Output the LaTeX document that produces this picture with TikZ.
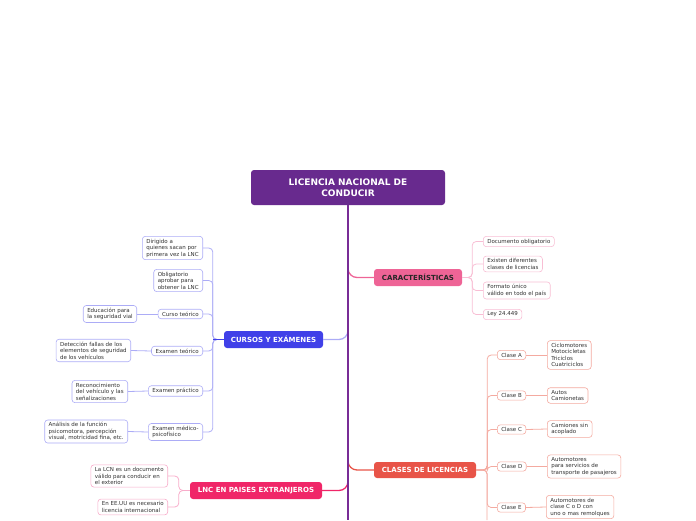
\documentclass[tikz,border=0pt]{standalone}
\usepackage{fontspec}
\setmainfont{DejaVu Sans}
\usetikzlibrary{positioning}
\definecolor{LNCPurple}{RGB}{104,42,142}
\definecolor{TrunkPurple}{RGB}{120,44,150}
\definecolor{CarPink}{RGB}{238,100,150}
\definecolor{CarLine}{RGB}{248,190,212}
\definecolor{ClaRed}{RGB}{232,84,72}
\definecolor{ClaLine}{RGB}{244,170,160}
\definecolor{CurBlue}{RGB}{64,64,232}
\definecolor{CurLine}{RGB}{172,172,246}
\definecolor{ExtPink}{RGB}{240,38,104}
\definecolor{ExtLine}{RGB}{248,172,202}
\definecolor{LeafText}{RGB}{50,50,50}

\begin{document}
\begin{tikzpicture}[x=1pt, y=-1pt,
    topic/.style={rounded corners=3pt, text=white, inner sep=1pt, align=center,
        font=\fontsize{7}{8.5}\selectfont\bfseries},
    leaf/.style={draw, rounded corners=3pt, fill=white, text=LeafText, align=left,
        inner xsep=4pt, inner ysep=2.5pt, line width=0.6pt, font=\fontsize{5.5}{6.5}\selectfont},
    branch/.style={line width=1.3pt, rounded corners=9pt},
    twig/.style={line width=0.8pt, rounded corners=4pt}]
    \useasboundingbox (0,0) rectangle (696,520);

    % --- nodo central ---
    \node[topic, fill=LNCPurple, minimum width=194pt, minimum height=35pt,
        font=\fontsize{9}{11}\selectfont\bfseries] (root) at (348,187.5) {LICENCIA NACIONAL DE\\CONDUCIR};
    \coordinate (trunkend) at (348,520);

    % --- ramas principales ---
    \node[topic, fill=CarPink, minimum width=88pt, minimum height=17pt, text=black!85] (car) at (418,277.5) {CARACTERÍSTICAS};
    \node[topic, fill=ClaRed, minimum width=102pt, minimum height=16pt] (cla) at (425,470) {CLASES DE LICENCIAS};
    \node[topic, fill=CurBlue, minimum width=99pt, minimum height=17pt] (cur) at (273.5,339.5) {CURSOS Y EXÁMENES};
    \node[topic, fill=ExtPink, minimum width=132pt, minimum height=17pt] (ext) at (256,490.5) {LNC EN PAISES EXTRANJEROS};

    \coordinate (tcar) at (348,262);
    \coordinate (tcur) at (348,322);
    \coordinate (tcla) at (348,454);
    \coordinate (text) at (348,474);
    \draw[branch, CarPink] (tcar) |- (car.west);
    \draw[branch, CurLine] (tcur) |- (cur.east);
    \draw[branch, ClaRed] (tcla) |- (cla.west);
    \draw[branch, ExtPink] (text) |- (ext.east);
    \draw[line width=2.6pt, TrunkPurple] (root.south) -- (trunkend);

    % --- CARACTERÍSTICAS ---
    \node[leaf, draw=CarLine, anchor=west] (c1) at (483,241.5) {Documento obligatorio};
    \node[leaf, draw=CarLine, anchor=west] (c2) at (483,264) {Existen diferentes\\clases de licencias};
    \node[leaf, draw=CarLine, anchor=west] (c3) at (483,290.5) {Formato único\\válido en todo el país};
    \node[leaf, draw=CarLine, anchor=west] (c4) at (483,314.5) {Ley 24.449};
    \foreach \c in {c1,c2,c3,c4}
        \draw[twig, CarLine] (car.east) -- ++(10,0) |- (\c.west);

    % --- CLASES DE LICENCIAS ---
    \node[leaf, draw=ClaLine, anchor=west] (ka) at (497,355) {Clase A};
    \node[leaf, draw=ClaLine, anchor=west] (kb) at (497,395.5) {Clase B};
    \node[leaf, draw=ClaLine, anchor=west] (kc) at (497,429.5) {Clase C};
    \node[leaf, draw=ClaLine, anchor=west] (kd) at (497,466.5) {Clase D};
    \node[leaf, draw=ClaLine, anchor=west] (ke) at (497,507.5) {Clase E};
    \node[leaf, draw=ClaLine, anchor=west] (la) at (547,355) {Ciclomotores\\Motocicletas\\Triciclos\\Cuatriciclos};
    \node[leaf, draw=ClaLine, anchor=west] (lb) at (547,395.5) {Autos\\Camionetas};
    \node[leaf, draw=ClaLine, anchor=west] (lc) at (547,429) {Camiones sin\\acoplado};
    \node[leaf, draw=ClaLine, anchor=west] (ld) at (547,466.5) {Automotores\\para servicios de\\transporte de pasajeros};
    \node[leaf, draw=ClaLine, anchor=west] (le) at (546,507) {Automotores de\\clase C o D con\\uno o mas remolques};
    \coordinate (clabot) at (487,520);
    \draw[twig, ClaLine] (cla.east) -- (487,470) -- (clabot);
    \foreach \k/\l in {ka/la,kb/lb,kc/lc,kd/ld,ke/le} {
        \draw[twig, ClaLine] (cla.east) -- ++(11,0) |- (\k.west);
        \draw[twig, ClaLine] (\k.east) -- (\l.west);
    }

    % --- CURSOS Y EXÁMENES ---
    \node[leaf, draw=CurLine, anchor=east] (e1) at (203,248) {Dirigido a\\quienes sacan por\\primera vez la LNC};
    \node[leaf, draw=CurLine, anchor=east] (e2) at (203,280.5) {Obligatorio\\aprobar para\\obtener la LNC};
    \node[leaf, draw=CurLine, anchor=east] (e3) at (203,314) {Curso teórico};
    \node[leaf, draw=CurLine, anchor=east] (e4) at (203,351) {Examen teórico};
    \node[leaf, draw=CurLine, anchor=east] (e5) at (203,391) {Examen práctico};
    \node[leaf, draw=CurLine, anchor=east] (e6) at (203,432) {Examen médico-\\psicofísico};
    \node[leaf, draw=CurLine, anchor=east] (f3) at (137,314) {Educación para\\la seguridad vial};
    \node[leaf, draw=CurLine, anchor=east] (f4) at (131,350.5) {Detección fallas de los\\elementos de seguridad\\de los vehículos};
    \node[leaf, draw=CurLine, anchor=east] (f5) at (128,391.5) {Reconocimiento\\del vehículo y las\\señalizaciones};
    \node[leaf, draw=CurLine, anchor=east] (f6) at (128,431.5) {Análisis de la función\\psicomotora, percepción\\visual, motricidad fina, etc.};
    \foreach \e in {e1,e2,e3,e4,e5,e6}
        \draw[twig, CurLine] (cur.west) -- ++(-11,0) |- (\e.east);
    \draw[line width=0.8pt, CurBlue] (cur.west) -- ++(-11,0);
    \foreach \e/\f in {e3/f3,e4/f4,e5/f5,e6/f6}
        \draw[twig, CurLine] (\e.west) -- (\f.east);

    % --- LNC EN PAISES EXTRANJEROS ---
    \node[leaf, draw=ExtLine, anchor=east] (x1) at (168,476) {La LCN es un documento\\válido para conducir en\\el exterior};
    \node[leaf, draw=ExtLine, anchor=east] (x2) at (168,507) {En EE.UU es necesario\\licencia internacional};
    \foreach \x in {x1,x2}
        \draw[twig, ExtLine] (ext.west) -- ++(-11,0) |- (\x.east);
\end{tikzpicture}
\end{document}
